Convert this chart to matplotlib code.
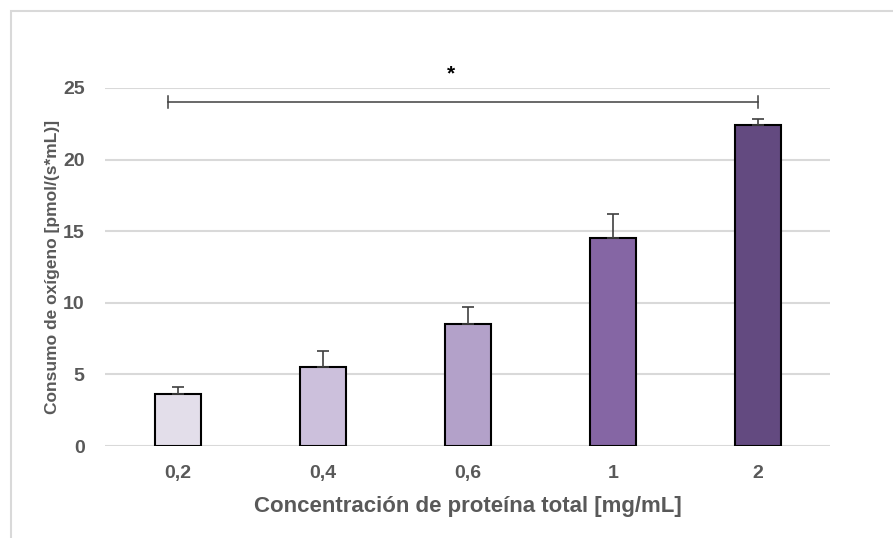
import numpy as np
import matplotlib.pyplot as plt
import matplotlib as mpl
from matplotlib.patches import Rectangle

mpl.rcParams['font.family'] = ['Liberation Sans', 'DejaVu Sans']
mpl.rcParams['font.weight'] = 'bold'

# data: oxygen consumption vs total protein concentration
concentraciones = ['0,2', '0,4', '0,6', '1', '2']
consumo = [3.6, 5.5, 8.5, 14.5, 22.4]
error = [0.5, 1.15, 1.2, 1.7, 0.45]
colores = ['#E3DEEA', '#CCC0DC', '#B3A1C9', '#8566A4', '#634A80']

gris = '#595959'

fig = plt.figure(figsize=(8.93, 5.38), dpi=100)
ax = fig.add_axes([0.118, 0.171, 0.812, 0.6655])

x = np.arange(len(concentraciones))
ax.bar(x, consumo, width=0.315, color=colores, edgecolor='black', linewidth=1.5, zorder=3)
ax.errorbar(x, consumo, yerr=[np.zeros(len(error)), error], fmt='none',
            ecolor='#404040', elinewidth=1.2, capsize=4, capthick=1.2, zorder=4)

ax.set_xlim(-0.5, len(x) - 0.5)
ax.set_ylim(0, 25)
ax.set_yticks(np.arange(0, 26, 5))
ax.set_xticks(x)
ax.set_xticklabels(concentraciones)
ax.yaxis.grid(True, color='#D9D9D9', linewidth=1.5, zorder=0)
ax.set_axisbelow(True)
for s in ax.spines.values():
    s.set_visible(False)
ax.tick_params(axis='both', length=0, labelsize=14, labelcolor=gris)
ax.tick_params(axis='x', pad=14)
ax.tick_params(axis='y', pad=15)

ax.set_xlabel('Concentración de proteína total [mg/mL]', fontsize=16,
              color=gris, fontweight='bold', labelpad=10)
ax.set_ylabel('Consumo de oxígeno [pmol/(s*mL)]', fontsize=12.5,
              color=gris, fontweight='bold', labelpad=2)

# significance bracket between first and last group
yb = 24.05
xa, xb = -0.07, x[-1]
ax.plot([xa, xb], [yb, yb], color='#404040', lw=1.1, clip_on=False, zorder=5)
for xi in (xa, xb):
    ax.plot([xi, xi], [yb - 0.42, yb + 0.42], color='#404040', lw=1.1, clip_on=False, zorder=5)
ax.text(1.88, 26.0, '*', ha='center', va='center', fontsize=15,
        color='black', fontweight='bold')

# light frame around the chart
fig.patches.append(Rectangle((0.012, -0.01), 0.99, 0.99, transform=fig.transFigure,
                             fill=False, edgecolor='#D9D9D9', linewidth=1.5))

fig.savefig('out.png', dpi=100)
